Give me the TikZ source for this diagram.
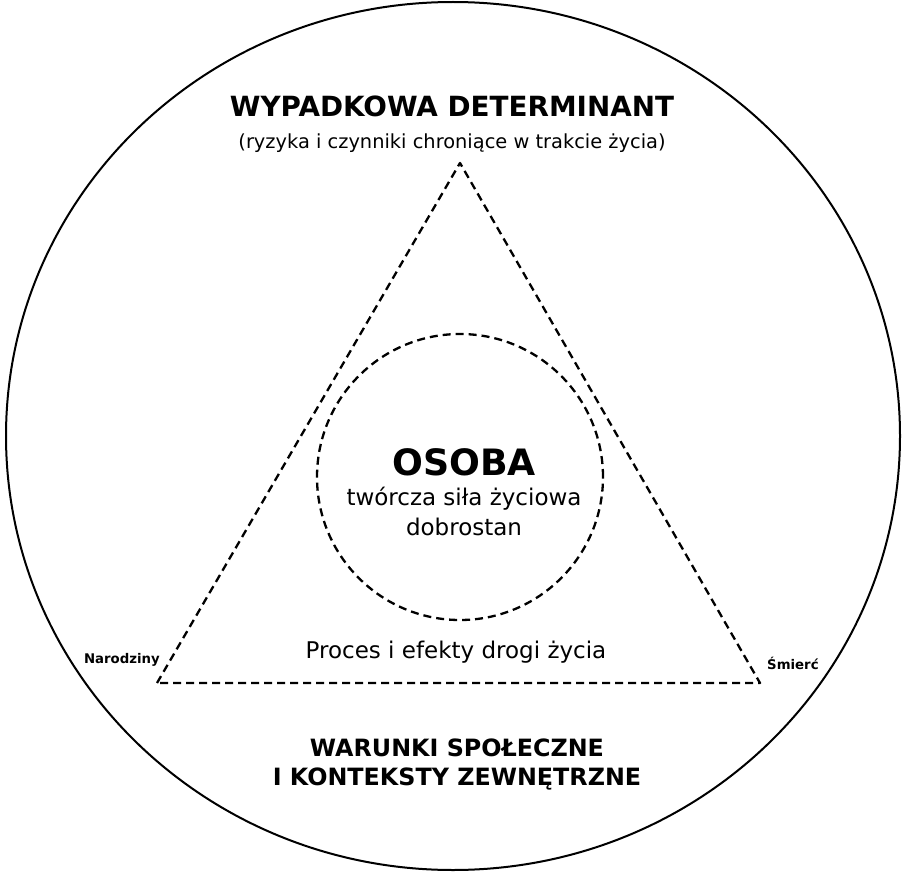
\documentclass[tikz,border=0pt]{standalone}
\usepackage{fontspec}
\setmainfont{DejaVu Sans}
\usepackage{tikz}
\usetikzlibrary{positioning, calc}

\begin{document}
\begin{tikzpicture}[
  x=1pt, y=-1pt,
  dashline/.style={draw=black, line width=2.3pt, dash pattern=on 8pt off 5pt},
  title/.style={font=\fontsize{27.8}{30}\selectfont\bfseries, align=center, inner sep=0pt},
  sub/.style={font=\fontsize{19.4}{22}\selectfont, inner sep=0pt},
  body/.style={font=\fontsize{23}{30}\selectfont, align=center, inner sep=0pt},
  corner/.style={font=\fontsize{13.3}{15}\selectfont\bfseries, inner sep=0pt}
]
\useasboundingbox (0,0) rectangle (902,872);

% outer world
\draw[line width=2pt] (453,436) ellipse [x radius=447, y radius=434];
\node[title] (det) at (452,106) {WYPADKOWA DETERMINANT};
\node[sub, below=17pt of det] (detsub) {(ryzyka i czynniki chroniące w trakcie życia)};

% life course triangle
\coordinate (birth) at (157,683);
\coordinate (top) at (460,163);
\coordinate (death) at (760,683);
\draw[dashline, line join=round] (birth) -- (top) -- (death) -- cycle;
\node[corner, anchor=south east] (nar) at (160,667) {Narodziny};
\node[corner, anchor=south west] (smi) at (767,670) {Śmierć};
\node[body] (proc) at (456,652) {Proces i efekty drogi życia};

% person
\node[dashline, circle, minimum size=286pt, inner sep=0pt] (person) at (460,477) {};
\node[font=\fontsize{36.3}{38}\selectfont\bfseries, inner sep=0pt] (osoba) at (464,462) {OSOBA};
\node[body, below=11pt of osoba] (sila) {twórcza siła życiowa\\dobrostan};

% social conditions
\node[title, font=\fontsize{23.8}{29}\selectfont\bfseries] (war) at (457,764)
  {WARUNKI SPOŁECZNE\\I KONTEKSTY ZEWNĘTRZNE};
\end{tikzpicture}
\end{document}
